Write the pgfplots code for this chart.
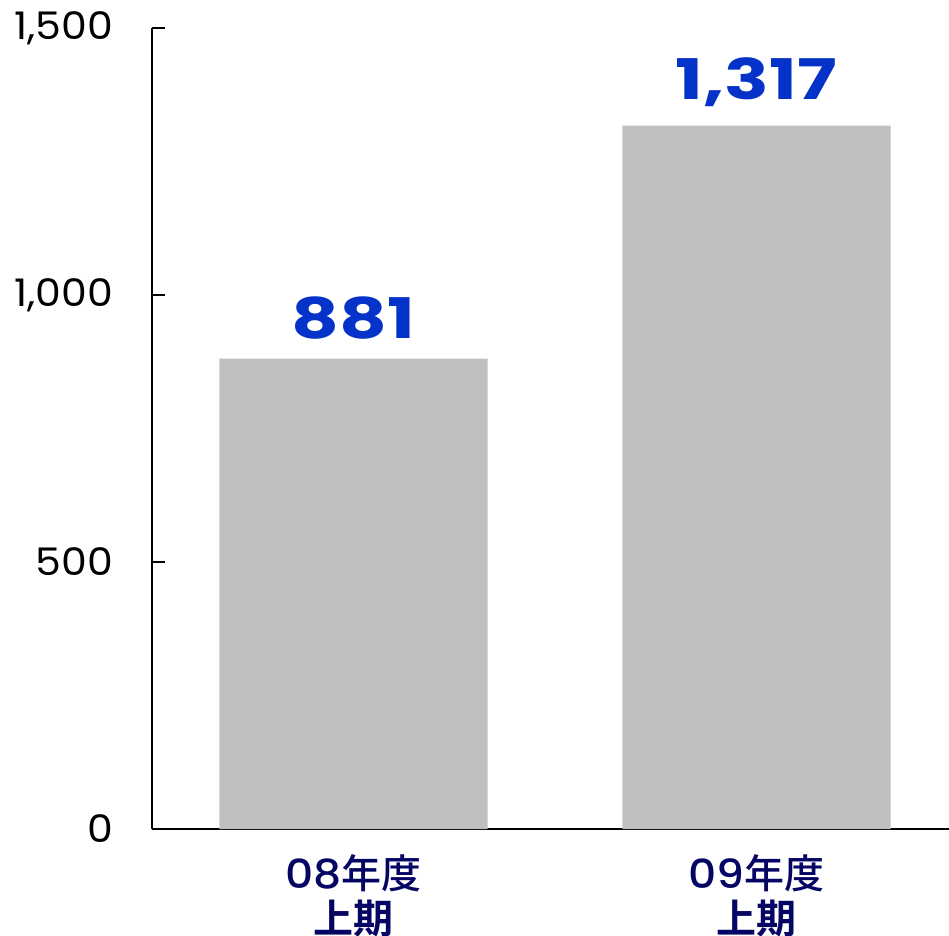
\documentclass[border=0pt]{standalone}
\usepackage{fontspec}
\usepackage{pgfplots}
\pgfplotsset{compat=1.18}
\setmainfont{Poppins}
\newfontfamily\cjk{Noto Sans CJK JP Medium}
\newfontfamily\cjkb{Noto Sans CJK JP Bold}
\newfontfamily\catnum[FakeStretch=1.1]{Poppins Medium}
\newfontfamily\wide[FakeStretch=1.32]{Poppins Bold}
\newfontfamily\tickf[FakeStretch=1.08]{Poppins}
\definecolor{bargray}{RGB}{192,192,192}
\definecolor{valblue}{RGB}{5,50,200}
\definecolor{catnavy}{RGB}{5,5,100}
\begin{document}
\begin{tikzpicture}
\begin{axis}[
  scale only axis,
  width=398.5pt, height=400.5pt,
  xmin=-0.5, xmax=1.4777,
  ymin=0, ymax=1500,
  axis x line*=bottom, axis y line*=left,
  axis line style={black, line width=0.9pt},
  xtick=data,
  xticklabels={{\catnum 08}{\cjk 年度}\\{\cjkb 上期},{\catnum 09}{\cjk 年度}\\{\cjkb 上期}},
  xticklabel style={align=center, text=catnavy, font=\fontsize{20}{22.5}\selectfont, yshift=-3pt},
  x tick style={draw=none},
  ytick={0,500,1000,1500},
  yticklabels={0,500,{1,000},{1,500}},
  yticklabel style={font=\fontsize{19}{22}\selectfont\tickf, xshift=-16pt},
  y tick style={black, line width=0.8pt},
  major tick length=6.5pt,
  tick align=inside,
  ybar, bar width=134pt,
  nodes near coords,
  nodes near coords style={font=\fontsize{28}{30}\selectfont\wide, text=valblue, yshift=6pt},
  point meta=explicit symbolic,
]
\addplot[fill=bargray, draw=none] coordinates {(0,881) [881] (1,1317) [{1,317}]};
\end{axis}
\pgfresetboundingbox
\path[use as bounding box] ([shift={(-76pt,-53pt)}]current axis.south west) rectangle ([shift={(0pt,14pt)}]current axis.north east);
\end{tikzpicture}
\end{document}
